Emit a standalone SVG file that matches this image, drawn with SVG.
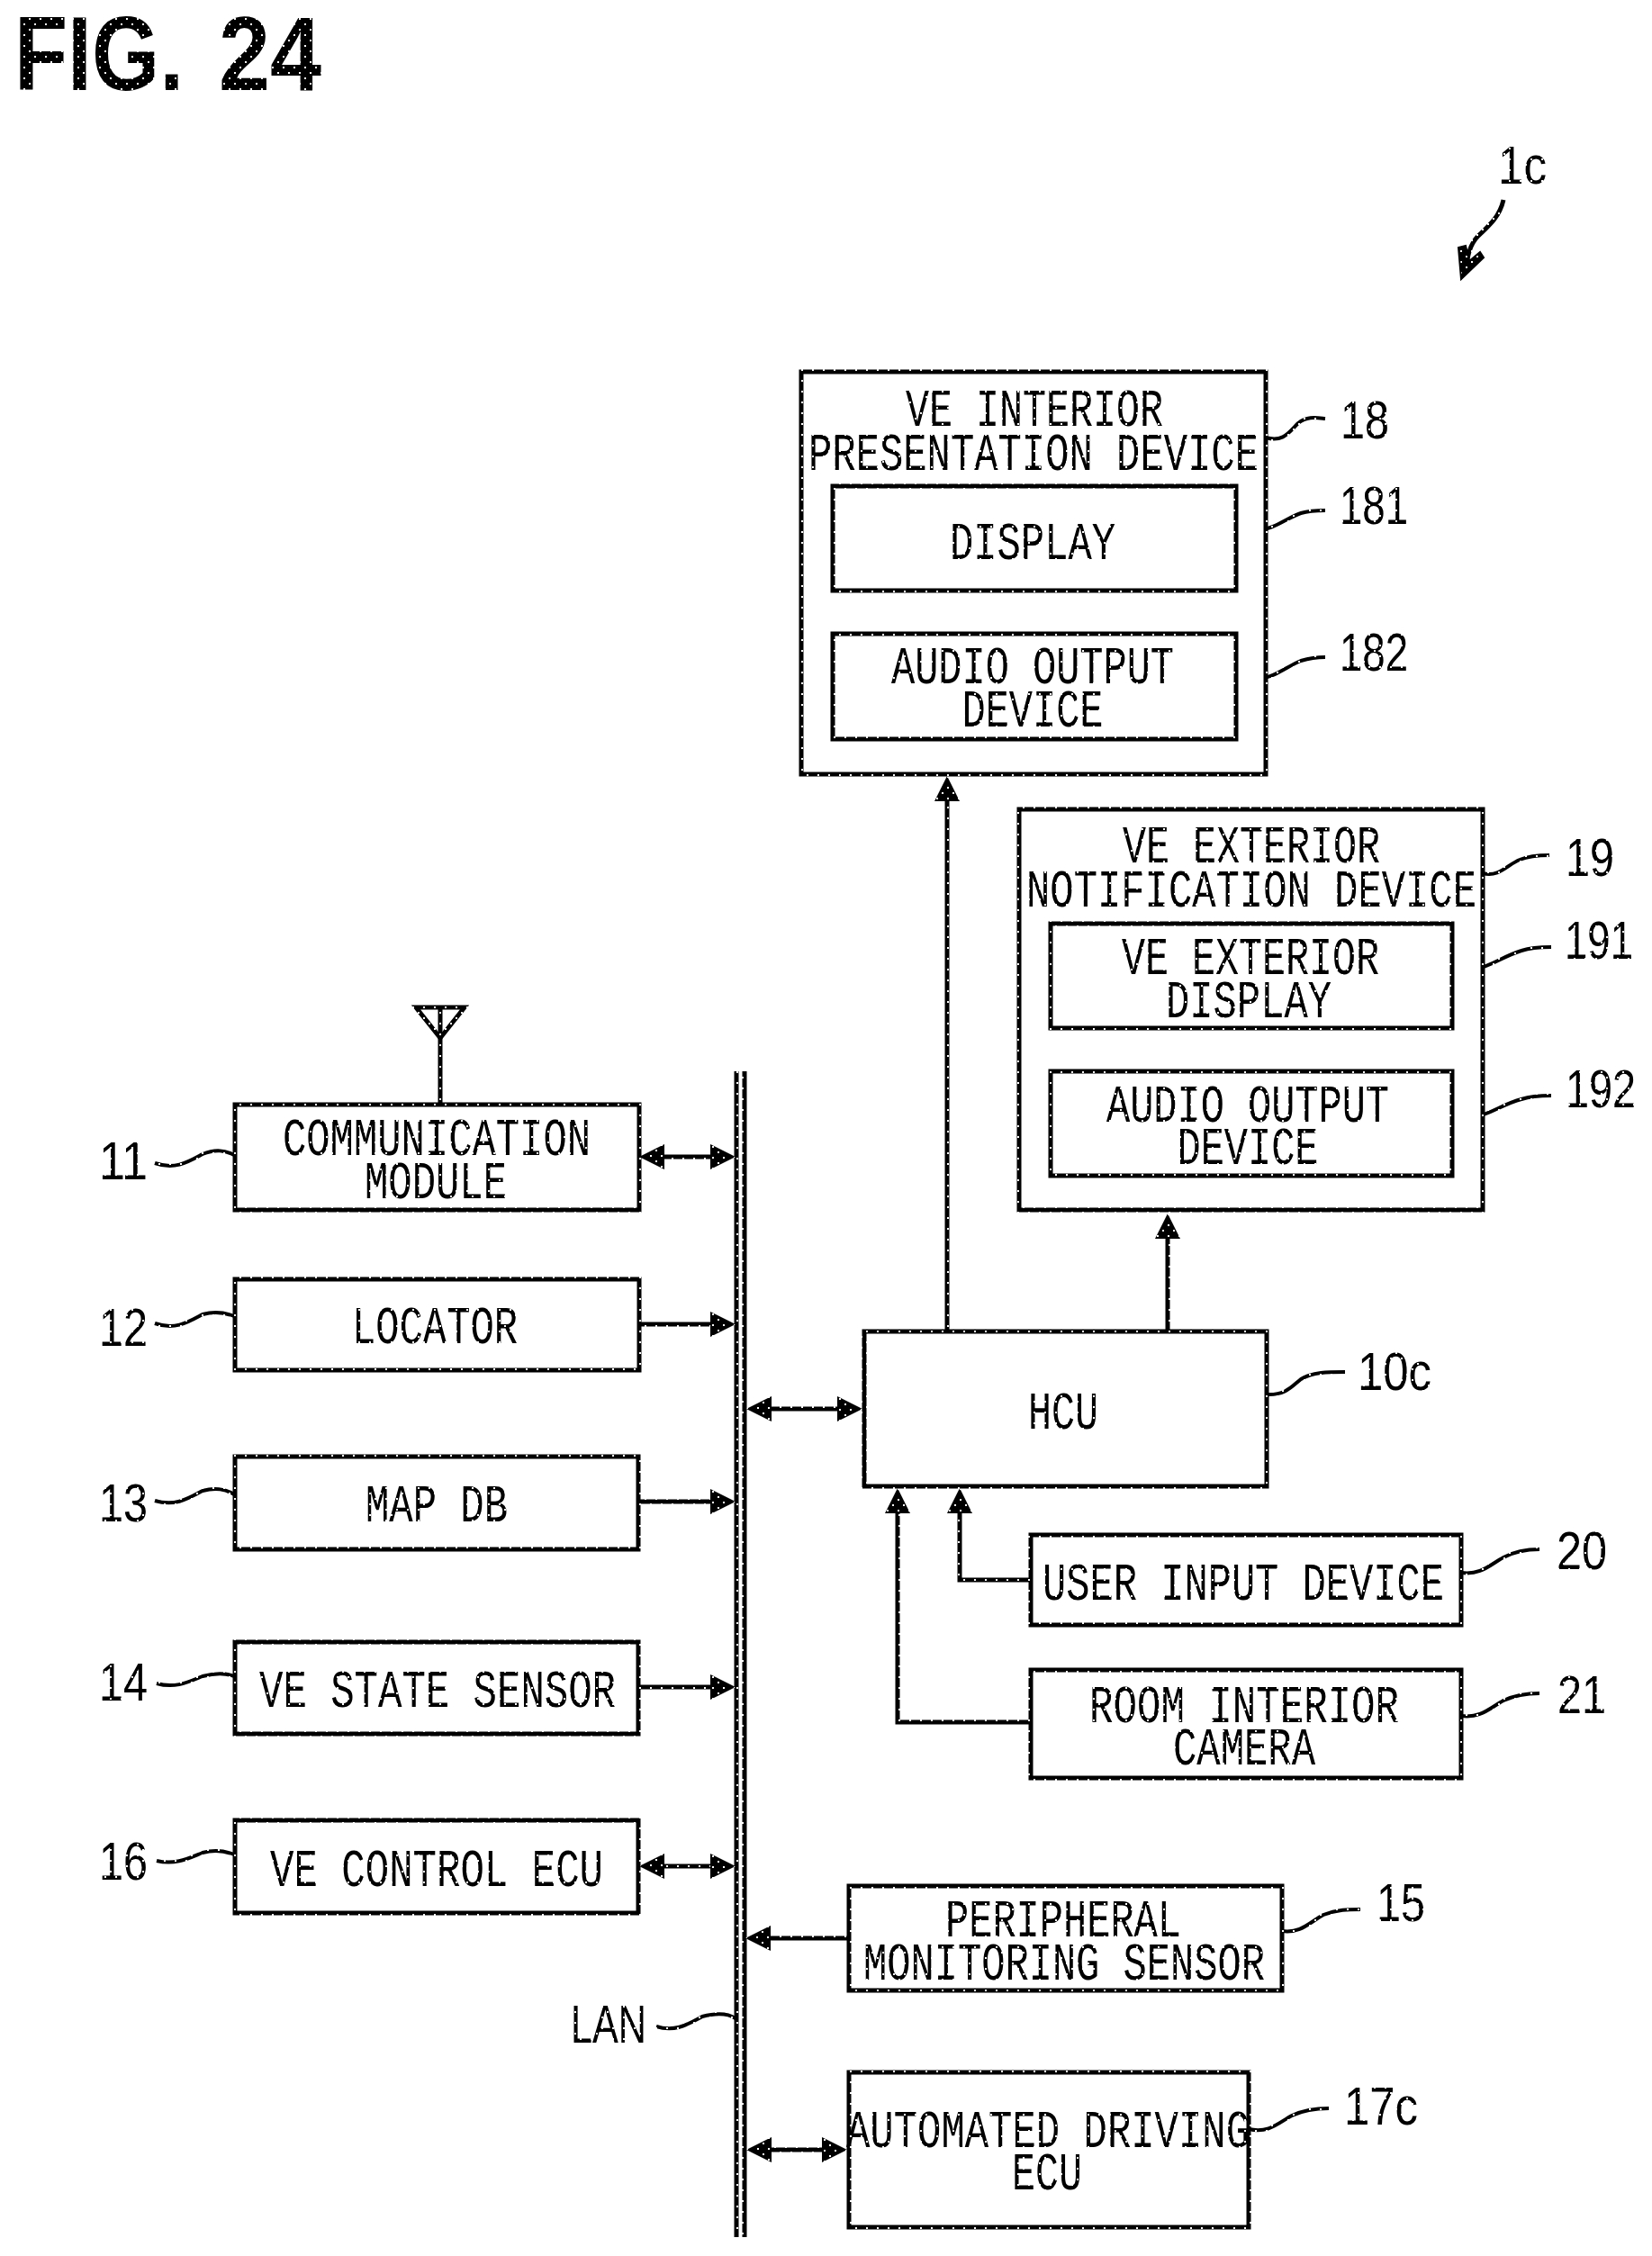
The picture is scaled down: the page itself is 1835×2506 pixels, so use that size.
<svg xmlns="http://www.w3.org/2000/svg" width="1835" height="2506" viewBox="0 0 1835 2506">
<defs>
<pattern id="ht" patternUnits="userSpaceOnUse" width="12" height="12"><rect width="12" height="12" fill="#000"/><rect x="2" y="2" width="2" height="2" fill="#fff"/><rect x="8" y="8" width="2" height="2" fill="#fff"/></pattern>
<marker id="a" markerUnits="userSpaceOnUse" markerWidth="28" markerHeight="28" viewBox="0 0 28 28" refX="16" refY="14" orient="auto-start-reverse"><path d="M0 0L28 14L0 28Z" fill="url(#ht)"/></marker>
<style>
.b{fill:#fff;stroke:url(#ht);stroke-width:5}
.l{fill:none;stroke:url(#ht);stroke-width:5}
.w{fill:none;stroke:url(#ht);stroke-width:4}
.ar{marker-end:url(#a)}
.bi{marker-start:url(#a);marker-end:url(#a)}
text{fill:url(#ht)}
.t{font-family:"Liberation Mono",monospace;font-size:59px;text-anchor:middle}
.n{font-family:"Liberation Sans",Arial,sans-serif;font-size:59px;text-anchor:middle}
</style>
</defs>
<rect width="1835" height="2506" fill="#fff"/>
<text id="title" y="100" font-family="Liberation Sans, Arial, sans-serif" font-weight="700" font-size="116"><tspan x="16" textLength="188" lengthAdjust="spacingAndGlyphs">FIG.</tspan> <tspan x="243" textLength="114" lengthAdjust="spacingAndGlyphs">24</tspan></text>
<g id="ref-1c"><text class="n" x="1691" y="204" textLength="54" lengthAdjust="spacingAndGlyphs">1c</text><path class="l" d="M1670 222C1666 240 1655 250 1642 262C1632 272 1630 285 1628 302"/><path d="M1623 310L1620 275L1628 273L1632 290L1644 280L1648 286Z" fill="url(#ht)" stroke="#000" stroke-width="2"/></g>
<g id="connectors">
<path class="l" d="M818 1190V2485M827 1190V2485"/>
<path class="l bi" d="M722 1285H805"/>
<path class="l ar" d="M710 1471H805"/>
<path class="l ar" d="M709 1668H805"/>
<path class="l ar" d="M709 1874H805"/>
<path class="l bi" d="M722 2073H805"/>
<path class="l bi" d="M841 1565H946"/>
<path class="l ar" d="M941 2153H840"/>
<path class="l bi" d="M841 2388H929"/>
<path class="l ar" d="M1052 1477V874"/>
<path class="l ar" d="M1297 1477V1360"/>
<path class="l ar" d="M1143 1755H1066V1665"/>
<path class="l ar" d="M1143 1913H997V1665"/>
<path class="l" d="M489 1225V1120"/>
<path class="l" d="M462 1119H516L489 1153Z"/>
<path class="w" d="M172 1292C195 1300 210 1290 225 1282C240 1276 250 1278 260 1283"/>
<path class="w" d="M172 1470C195 1478 210 1468 225 1460C240 1456 250 1458 260 1462"/>
<path class="w" d="M172 1667C195 1674 210 1664 225 1656C240 1652 250 1654 260 1660"/>
<path class="w" d="M174 1870C195 1876 210 1868 225 1862C240 1858 250 1858 260 1862"/>
<path class="w" d="M174 2067C195 2072 210 2064 225 2058C240 2054 250 2056 260 2060"/>
<path class="w" d="M729 2251C750 2258 765 2248 780 2240C795 2236 808 2236 817 2242"/>
<path class="w" d="M1406 486C1425 492 1432 480 1442 470C1452 462 1462 464 1472 465"/>
<path class="w" d="M1371 588H1400C1415 588 1430 575 1445 570C1455 567 1465 567 1472 567"/>
<path class="w" d="M1371 753H1400C1415 753 1430 740 1445 734C1455 731 1465 730 1472 730"/>
<path class="w" d="M1647 970C1665 975 1675 960 1688 955C1700 950 1712 950 1721 950"/>
<path class="w" d="M1613 1076H1640C1655 1074 1670 1062 1690 1056C1702 1052 1714 1052 1723 1052"/>
<path class="w" d="M1613 1240H1640C1655 1238 1670 1226 1690 1221C1702 1217 1714 1217 1723 1217"/>
<path class="w" d="M1407 1549C1428 1550 1435 1540 1445 1532C1458 1524 1475 1524 1494 1524"/>
<path class="w" d="M1623 1747C1645 1750 1655 1738 1670 1730C1685 1722 1698 1721 1710 1721"/>
<path class="w" d="M1623 1906C1645 1909 1655 1897 1670 1889C1685 1882 1698 1881 1710 1881"/>
<path class="w" d="M1424 2145C1445 2148 1455 2135 1470 2127C1485 2121 1498 2121 1511 2121"/>
<path class="w" d="M1387 2365C1410 2370 1420 2358 1435 2350C1450 2343 1465 2342 1476 2342"/>
</g>
<g id="n18"><rect class="b" x="890" y="413" width="516" height="447"/><text class="t" x="1149" y="473" textLength="286" lengthAdjust="spacingAndGlyphs">VE INTERIOR</text><text class="t" x="1148" y="522" textLength="500" lengthAdjust="spacingAndGlyphs">PRESENTATION DEVICE</text><text class="n" x="1516" y="487" textLength="54" lengthAdjust="spacingAndGlyphs">18</text></g>
<g id="n181"><rect class="b" x="925" y="540" width="448" height="116"/><text class="t" x="1147" y="621" textLength="184" lengthAdjust="spacingAndGlyphs">DISPLAY</text><text class="n" x="1526" y="582" textLength="76" lengthAdjust="spacingAndGlyphs">181</text></g>
<g id="n182"><rect class="b" x="925" y="704" width="448" height="117"/><text class="t" x="1147" y="759" textLength="314" lengthAdjust="spacingAndGlyphs">AUDIO OUTPUT</text><text class="t" x="1147" y="807" textLength="157" lengthAdjust="spacingAndGlyphs">DEVICE</text><text class="n" x="1526" y="745" textLength="76" lengthAdjust="spacingAndGlyphs">182</text></g>
<g id="n19"><rect class="b" x="1132" y="899" width="515" height="445"/><text class="t" x="1390" y="958" textLength="286" lengthAdjust="spacingAndGlyphs">VE EXTERIOR</text><text class="t" x="1390" y="1007" textLength="500" lengthAdjust="spacingAndGlyphs">NOTIFICATION DEVICE</text><text class="n" x="1766" y="973" textLength="54" lengthAdjust="spacingAndGlyphs">19</text></g>
<g id="n191"><rect class="b" x="1167" y="1026" width="446" height="116"/><text class="t" x="1389" y="1082" textLength="286" lengthAdjust="spacingAndGlyphs">VE EXTERIOR</text><text class="t" x="1387" y="1130" textLength="184" lengthAdjust="spacingAndGlyphs">DISPLAY</text><text class="n" x="1776" y="1065" textLength="76" lengthAdjust="spacingAndGlyphs">191</text></g>
<g id="n192"><rect class="b" x="1167" y="1190" width="446" height="116"/><text class="t" x="1386" y="1246" textLength="314" lengthAdjust="spacingAndGlyphs">AUDIO OUTPUT</text><text class="t" x="1386" y="1293" textLength="157" lengthAdjust="spacingAndGlyphs">DEVICE</text><text class="n" x="1778" y="1230" textLength="78" lengthAdjust="spacingAndGlyphs">192</text></g>
<g id="n11"><rect class="b" x="261" y="1227" width="449" height="117"/><text class="t" x="485" y="1283" textLength="342" lengthAdjust="spacingAndGlyphs">COMMUNICATION</text><text class="t" x="484" y="1331" textLength="158" lengthAdjust="spacingAndGlyphs">MODULE</text><text class="n" x="137" y="1310" textLength="54" lengthAdjust="spacingAndGlyphs">11</text></g>
<g id="n12"><rect class="b" x="261" y="1421" width="449" height="101"/><text class="t" x="483" y="1492" textLength="184" lengthAdjust="spacingAndGlyphs">LOCATOR</text><text class="n" x="137" y="1495" textLength="54" lengthAdjust="spacingAndGlyphs">12</text></g>
<g id="n13"><rect class="b" x="261" y="1618" width="448" height="103"/><text class="t" x="485" y="1690" textLength="158" lengthAdjust="spacingAndGlyphs">MAP DB</text><text class="n" x="137" y="1690" textLength="54" lengthAdjust="spacingAndGlyphs">13</text></g>
<g id="n14"><rect class="b" x="261" y="1824" width="448" height="102"/><text class="t" x="486" y="1896" textLength="396" lengthAdjust="spacingAndGlyphs">VE STATE SENSOR</text><text class="n" x="137" y="1889" textLength="54" lengthAdjust="spacingAndGlyphs">14</text></g>
<g id="n16"><rect class="b" x="261" y="2022" width="448" height="103"/><text class="t" x="485" y="2095" textLength="370" lengthAdjust="spacingAndGlyphs">VE CONTROL ECU</text><text class="n" x="137" y="2088" textLength="54" lengthAdjust="spacingAndGlyphs">16</text></g>
<g id="n10c"><rect class="b" x="960" y="1479" width="447" height="172"/><text class="t" x="1181" y="1587" textLength="78" lengthAdjust="spacingAndGlyphs">HCU</text><text class="n" x="1549" y="1544" textLength="82" lengthAdjust="spacingAndGlyphs">10c</text></g>
<g id="n20"><rect class="b" x="1145" y="1705" width="478" height="100"/><text class="t" x="1381" y="1777" textLength="446" lengthAdjust="spacingAndGlyphs">USER INPUT DEVICE</text><text class="n" x="1757" y="1743" textLength="56" lengthAdjust="spacingAndGlyphs">20</text></g>
<g id="n21"><rect class="b" x="1145" y="1855" width="478" height="120"/><text class="t" x="1382" y="1913" textLength="344" lengthAdjust="spacingAndGlyphs">ROOM INTERIOR</text><text class="t" x="1382" y="1960" textLength="158" lengthAdjust="spacingAndGlyphs">CAMERA</text><text class="n" x="1757" y="1903" textLength="54" lengthAdjust="spacingAndGlyphs">21</text></g>
<g id="n15"><rect class="b" x="943" y="2095" width="481" height="116"/><text class="t" x="1181" y="2151" textLength="262" lengthAdjust="spacingAndGlyphs">PERIPHERAL</text><text class="t" x="1182" y="2199" textLength="446" lengthAdjust="spacingAndGlyphs">MONITORING SENSOR</text><text class="n" x="1556" y="2134" textLength="54" lengthAdjust="spacingAndGlyphs">15</text></g>
<g id="n17c"><rect class="b" x="943" y="2302" width="444" height="172"/><text class="t" x="1164" y="2385" textLength="448" lengthAdjust="spacingAndGlyphs">AUTOMATED DRIVING</text><text class="t" x="1163" y="2432" textLength="78" lengthAdjust="spacingAndGlyphs">ECU</text><text class="n" x="1534" y="2360" textLength="82" lengthAdjust="spacingAndGlyphs">17c</text></g>
<g id="lan"><text class="n" x="676" y="2269" textLength="84" lengthAdjust="spacingAndGlyphs">LAN</text></g>
</svg>
